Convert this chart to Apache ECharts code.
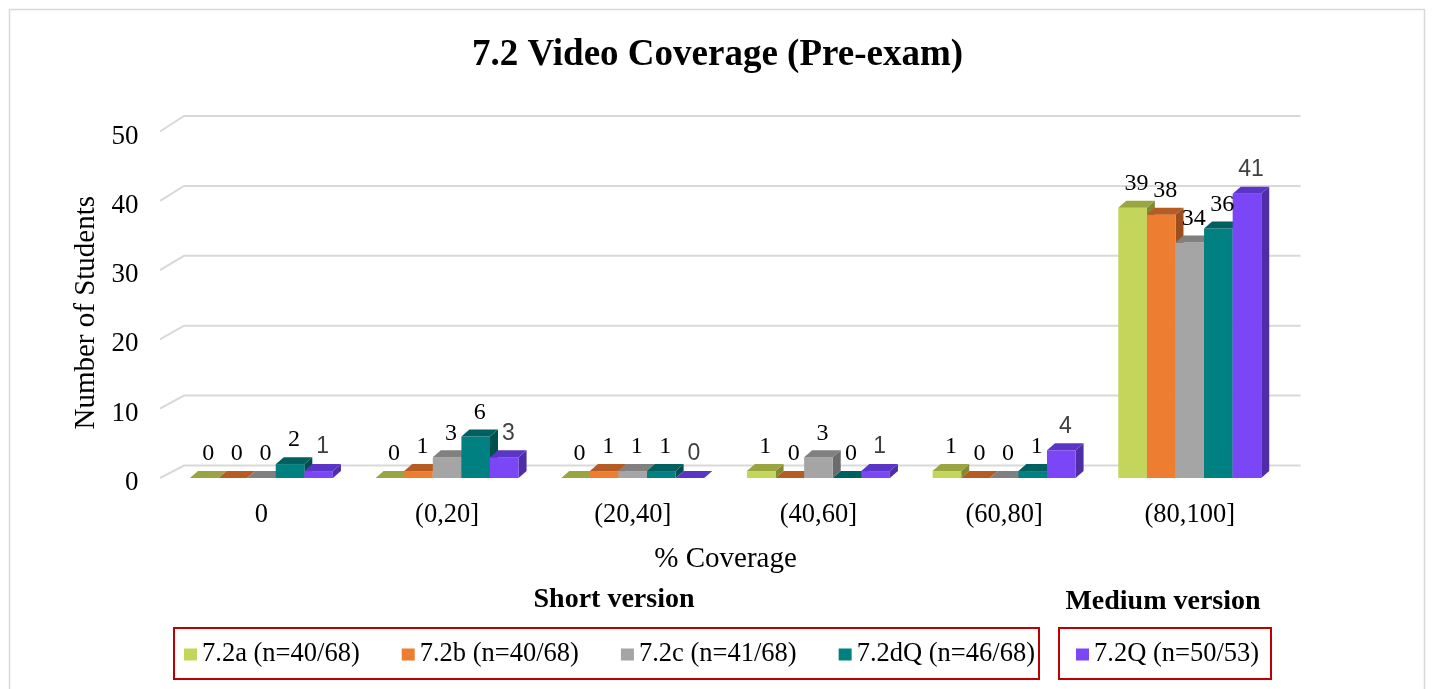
<!DOCTYPE html>
<html>
<head>
<meta charset="utf-8">
<script src="https://cdn.jsdelivr.net/npm/echarts@6/dist/echarts.min.js"></script>
<style>
html,body{margin:0;padding:0;background:#fff;}
#chart{width:1435px;height:689px;}
</style>
</head>
<body>
<div id="chart"></div>
<script>
// ---- data ----
const categories = ['0', '(0,20]', '(20,40]', '(40,60]', '(60,80]', '(80,100]'];
const s72a  = [0, 0, 0, 1, 1, 39];
const s72b  = [0, 1, 1, 0, 0, 38];
const s72c  = [0, 3, 1, 3, 0, 34];
const s72dQ = [2, 6, 1, 0, 1, 36];
const s72Q  = [1, 3, 0, 1, 4, 41];
const seriesNames = ['7.2a (n=40/68)', '7.2b (n=40/68)', '7.2c (n=41/68)', '7.2dQ (n=46/68)', '7.2Q (n=50/53)'];
const yTicks = [0, 10, 20, 30, 40, 50];

// ---- styles ----
const SERIF = '"Liberation Serif", "Times New Roman", serif';
const SANS = '"Liberation Sans", Arial, sans-serif';
const palette = [
  {front: '#c4d55c', top: '#9aa541', side: '#7f8a33'},
  {front: '#ed7d31', top: '#b65c22', side: '#9c4e1c'},
  {front: '#a5a5a5', top: '#808080', side: '#6c6c6c'},
  {front: '#008080', top: '#006060', side: '#004f4f'},
  {front: '#7b46f6', top: '#5b36c6', side: '#4d2ea6'}
];
const allSeries = [s72a, s72b, s72c, s72dQ, s72Q];
const DX = 8, DY = 7;

function makeBarSeries(idx) {
  const pal = palette[idx];
  return {
    type: 'custom',
    name: seriesNames[idx],
    itemStyle: {color: pal.front},
    data: allSeries[idx].map((v, i) => [i, v]),
    encode: {x: 0, y: 1},
    z: 3,
    renderItem: function (params, api) {
      const ci = api.value(0), v = api.value(1);
      const base = api.coord([ci, 0]);
      const top = api.coord([ci, v]);
      const band = api.size([1, 0])[0];
      const bw = band * 0.154;
      const x0 = base[0] - 2.5 * bw + idx * bw;
      const yb = base[1], yt = top[1];
      const children = [
        {type: 'polygon', shape: {points: [[x0 + bw, yt], [x0 + bw + DX, yt - DY], [x0 + bw + DX, yb - DY], [x0 + bw, yb]]},
         style: {fill: pal.side}},
        {type: 'rect', shape: {x: x0, y: yt, width: bw, height: yb - yt}, style: {fill: pal.front}},
        {type: 'polygon', shape: {points: [[x0, yt], [x0 + bw, yt], [x0 + bw + DX, yt - DY], [x0 + DX, yt - DY]]},
         style: {fill: pal.top}},
        {type: 'text', z2: 100, style: {
          text: String(v), x: x0 + bw / 2 + DX / 2, y: yt - 24,
          align: 'center', verticalAlign: 'middle',
          font: idx === 4 ? ('23px ' + SANS) : ('24px ' + SERIF),
          fill: idx === 4 ? '#404040' : '#000'
        }}
      ];
      return {type: 'group', children: children};
    }
  };
}

const gridSeries = {
  type: 'custom',
  name: 'grid',
  silent: true,
  z: 1,
  data: yTicks.map(t => [0, t]),
  encode: {x: 0, y: 1},
  renderItem: function (params, api) {
    const cs = params.coordSys;
    const v = api.value(1);
    const p = api.coord([0, v]);
    const yf = p[1];
    const yb = yf - (12.5 + 0.06 * v);
    return {
      type: 'polyline',
      shape: {points: [[cs.x - 8.6, yf], [cs.x + 15.4, yb], [cs.x + cs.width + 18, yb]]},
      style: {stroke: '#d9d9d9', lineWidth: 2, fill: null}
    };
  }
};

const chart = echarts.init(document.getElementById('chart'));
chart.setOption({
  backgroundColor: '#fff',
  animation: false,
  title: {
    text: '7.2 Video Coverage (Pre-exam)',
    left: 'center', top: 37, padding: 0,
    textStyle: {fontFamily: SERIF, fontSize: 37, fontWeight: 'bold', color: '#000'}
  },
  grid: {left: 168.6, right: 152.4, top: 131.5, bottom: 211},
  xAxis: {
    type: 'category',
    data: categories,
    axisLine: {show: false}, axisTick: {show: false},
    axisLabel: {fontFamily: SERIF, fontSize: 26.5, color: '#000', margin: 24},
    name: '% Coverage', nameLocation: 'middle', nameGap: 67,
    nameTextStyle: {fontFamily: SERIF, fontSize: 29, color: '#000'}
  },
  yAxis: {
    type: 'value', min: 0, max: 50, interval: 10,
    axisLine: {show: false}, axisTick: {show: false}, splitLine: {show: false},
    axisLabel: {
      margin: 30,
      formatter: '{a|{value}}',
      rich: {a: {fontFamily: SERIF, fontSize: 27, color: '#000', padding: [10, 0, 0, 0]}}
    },
    name: 'Number of Students', nameLocation: 'middle', nameGap: 65,
    nameTextStyle: {fontFamily: SERIF, fontSize: 29, color: '#000', padding: [0, 16, 0, 0]}
  },
  legend: [
    {
      data: seriesNames.slice(0, 4), left: 184, top: 641, padding: 0,
      itemWidth: 13, itemHeight: 12, itemGap: 42, icon: 'rect',
      textStyle: {fontFamily: SERIF, fontSize: 26.5, color: '#000'}
    },
    {
      data: seriesNames.slice(4), left: 1076, top: 641, padding: 0,
      itemWidth: 13, itemHeight: 12, icon: 'rect',
      textStyle: {fontFamily: SERIF, fontSize: 26.5, color: '#000'}
    }
  ],
  graphic: [
    {type: 'rect', silent: true, shape: {x: 9.5, y: 9.5, width: 1415, height: 700},
     style: {fill: 'none', stroke: '#d9d9d9', lineWidth: 1.5}},
    {type: 'rect', silent: true, shape: {x: 174, y: 628, width: 865, height: 51},
     style: {fill: 'none', stroke: '#c00000', lineWidth: 2}},
    {type: 'rect', silent: true, shape: {x: 1059, y: 628, width: 212, height: 51},
     style: {fill: 'none', stroke: '#c00000', lineWidth: 2}},
    {type: 'text', silent: true, x: 614, y: 600,
     style: {text: 'Short version', align: 'center', verticalAlign: 'middle',
             font: 'bold 28px ' + SERIF, fill: '#000'}},
    {type: 'text', silent: true, x: 1163, y: 602,
     style: {text: 'Medium version', align: 'center', verticalAlign: 'middle',
             font: 'bold 28px ' + SERIF, fill: '#000'}}
  ],
  series: [gridSeries].concat([0, 1, 2, 3, 4].map(makeBarSeries))
});
</script>
</body>
</html>
